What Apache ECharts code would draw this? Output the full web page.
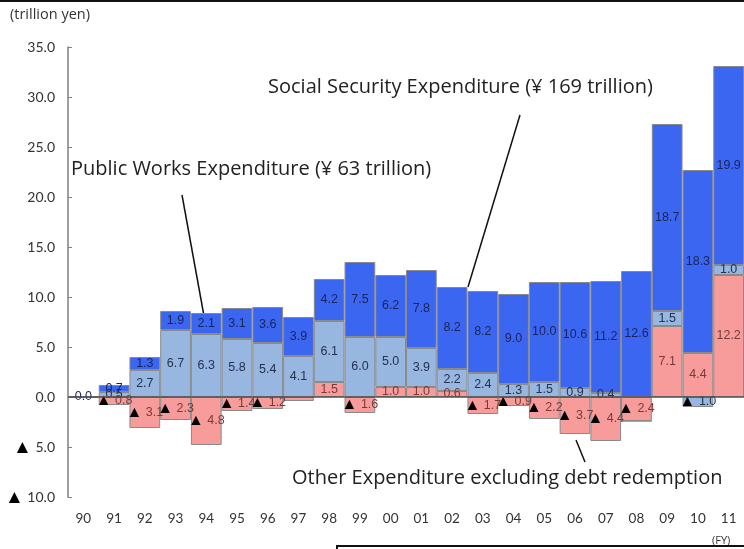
<!DOCTYPE html>
<html><head><meta charset="utf-8">
<script src="https://cdn.jsdelivr.net/npm/echarts@6/dist/echarts.min.js"></script>
<style>html,body{margin:0;padding:0;background:#fff}#c{width:744px;height:549px}</style>
</head><body><div id="c"></div>
<script>
const years = ['90','91','92','93','94','95','96','97','98','99','00','01','02','03','04','05','06','07','08','09','10','11'];
const otherExp  = [0, -0.8, -3.1, -2.3, -4.8, -1.4, -1.2, -0.4, 1.5, -1.6, 1.0, 1.0, 0.6, -1.7, -0.9, -2.2, -3.7, -4.4, -2.4, 7.1, 4.4, 12.2];
const publicWorks = [0, 0.5, 2.7, 6.7, 6.3, 5.8, 5.4, 4.1, 6.1, 6.0, 5.0, 3.9, 2.2, 2.4, 1.3, 1.5, 0.9, 0.4, 0, 1.5, -1.0, 1.0];
const socialSec = [0, 0.7, 1.3, 1.9, 2.1, 3.1, 3.6, 3.9, 4.2, 7.5, 6.2, 7.8, 8.2, 8.2, 9.0, 10.0, 10.6, 11.2, 12.6, 18.7, 18.3, 19.9];
const yTicks = [-10, -5, 0, 5, 10, 15, 20, 25, 30, 35];
const hiddenLabels = { other: ['90', '97'], public: ['90', '08'], social: [] };

const fmtVal = v => v < 0 ? '{t|▲} ' + (-v).toFixed(1) : v.toFixed(1);
function labelFor(key, color) {
  return {
    show: true, position: 'inside', fontSize: 12.5, color: color,
    fontFamily: 'Liberation Sans, Arial, sans-serif',
    rich: { t: { color: '#000', fontSize: 16 } },
    formatter: p => hiddenLabels[key].includes(p.name) ? '' : fmtVal(p.value)
  };
}
const chart = echarts.init(document.getElementById('c'));
const border = { borderColor: '#8a8a8a', borderWidth: 1 };
const annoFont = 'Open Sans, sans-serif';
chart.setOption({
  animation: false,
  grid: { left: 68, right: -2, top: 47, bottom: 52 },
  xAxis: {
    type: 'category', data: years,
    axisLine: { show: false }, axisTick: { show: false },
    axisLabel: { margin: 15, fontSize: 13.5, color: '#333', fontFamily: 'Lato, Liberation Sans, sans-serif' }
  },
  yAxis: {
    type: 'value', min: yTicks[0], max: yTicks[yTicks.length - 1], interval: 5,
    axisLine: { show: true, lineStyle: { color: '#808080', width: 1.5 } },
    axisTick: { show: true, inside: true, length: 4, lineStyle: { color: '#808080' } },
    splitLine: { show: false },
    axisLabel: { fontSize: 14, color: '#333', margin: 13, fontFamily: 'Lato, Liberation Sans, sans-serif',
      rich: { t: { fontSize: 19, color: '#000' } },
      formatter: v => v < 0 ? '{t|▲} ' + (-v).toFixed(1) : v.toFixed(1) }
  },
  series: [
    { name: 'Other', type: 'bar', stack: 'a', data: otherExp, barCategoryGap: '0%',
      itemStyle: Object.assign({ color: '#f79b9b' }, border), label: labelFor('other', '#7a3a3a') },
    { name: 'Public', type: 'bar', stack: 'a', data: publicWorks,
      itemStyle: Object.assign({ color: '#97b6e0' }, border), label: labelFor('public', '#25324f') },
    { name: 'Social', type: 'bar', stack: 'a', data: socialSec,
      itemStyle: Object.assign({ color: '#3a66f2' }, border), label: labelFor('social', '#1a2458'),
      markLine: { silent: true, symbol: 'none', label: { show: false },
        lineStyle: { color: '#505050', type: 'solid', width: 1.5 }, data: [{ yAxis: 0 }] } }
  ],
  graphic: [
    { type: 'rect', shape: { x: 0, y: 0, width: 744, height: 2 }, style: { fill: '#111' } },
    { type: 'text', left: 10, top: 7, style: { text: '(trillion yen)', fontSize: 14.5, fill: '#333', fontFamily: annoFont } },
    { type: 'text', left: 268, top: 77, style: { text: 'Social Security Expenditure (¥ 169 trillion)', fontSize: 20, fill: '#222', fontFamily: annoFont } },
    { type: 'line', shape: { x1: 520, y1: 115, x2: 468, y2: 287 }, style: { stroke: '#111', lineWidth: 1.5 } },
    { type: 'text', left: 71, top: 159, style: { text: 'Public Works Expenditure (¥ 63 trillion)', fontSize: 20, fill: '#222', fontFamily: annoFont } },
    { type: 'line', shape: { x1: 182, y1: 195, x2: 208, y2: 338 }, style: { stroke: '#111', lineWidth: 1.5 } },
    { type: 'text', left: 292, top: 468, style: { text: 'Other Expenditure excluding debt redemption', fontSize: 20, fill: '#222', fontFamily: annoFont } },
    { type: 'line', shape: { x1: 576, y1: 440, x2: 585, y2: 462 }, style: { stroke: '#111', lineWidth: 1.5 } },
    { type: 'text', left: 712, top: 535, style: { text: '(FY)', fontSize: 11, fill: '#333', fontFamily: annoFont } },
    { type: 'rect', shape: { x: 337, y: 546, width: 420, height: 20 }, style: { fill: '#fff', stroke: '#111', lineWidth: 2 } }
  ]
});
</script></body></html>
